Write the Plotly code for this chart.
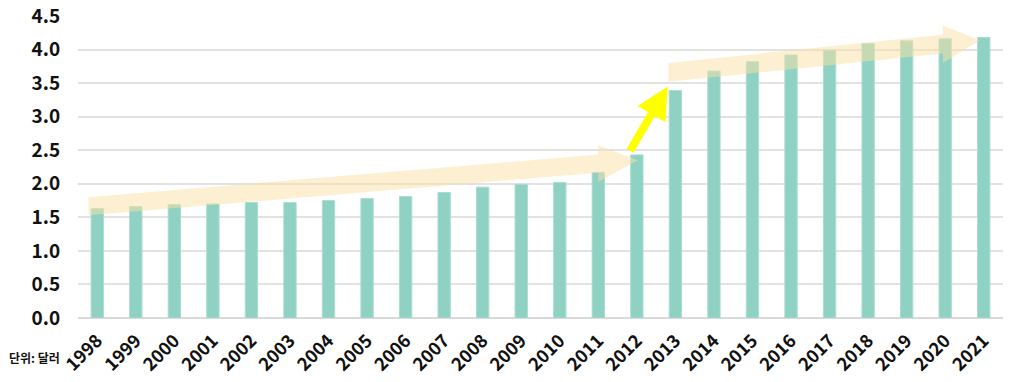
import plotly.graph_objects as go

years = list(range(1998, 2022))
values = [1.63, 1.66, 1.69, 1.70, 1.72, 1.72, 1.75, 1.78, 1.81, 1.87, 1.95, 1.99,
          2.02, 2.17, 2.43, 3.39, 3.68, 3.82, 3.92, 3.99, 4.09, 4.13, 4.16, 4.18]
tick_labels = [str(y) for y in years]
y_ticks = [0.0, 0.5, 1.0, 1.5, 2.0, 2.5, 3.0, 3.5, 4.0, 4.5]

FONT = "Noto Sans CJK KR"

fig = go.Figure()
fig.add_trace(go.Bar(
    x=years, y=values, width=0.32,
    marker=dict(color="#8fd1c2", line=dict(color="#a9ddd1", width=1)),
    hoverinfo="x+y", showlegend=False,
))


def band_arrow(x0, c0, x_base, c_base, x_tip, c_tip, half, head_half):
    """Wide trend arrow as a closed path in data coordinates."""
    pts = [
        (x0, c0 + half),
        (x_base, c_base + half),
        (x_base, c_base + head_half),
        (x_tip, c_tip),
        (x_base, c_base - head_half),
        (x_base, c_base - half),
        (x0, c0 - half),
    ]
    return "M " + " L ".join(f"{x},{y}" for x, y in pts) + " Z"


arrow_specs = [
    # start x, start center, head base x, base center, tip x, tip center, half thickness, head half
    (1997.77, 1.665, 2011.0, 2.30, 2012.02, 2.35, 0.135, 0.275),
    (2012.82, 3.66, 2019.94, 4.08, 2020.9, 4.14, 0.14, 0.28),
]
for spec in arrow_specs:
    fig.add_shape(type="path", path=band_arrow(*spec), xref="x", yref="y",
                  fillcolor="rgba(252,226,165,0.5)", line=dict(width=0), layer="above")

# yellow jump arrow
fig.add_annotation(x=2012.8, y=3.45, ax=2011.8, ay=2.47, xref="x", yref="y",
                   axref="x", ayref="y", text="", showarrow=True,
                   arrowhead=2, arrowsize=0.8, arrowwidth=8, arrowcolor="#ffff00")

fig.add_annotation(x=-0.077, y=-0.132, xref="paper", yref="paper", text="<b>단위: 달러</b>",
                   showarrow=False, xanchor="left", yanchor="middle",
                   font=dict(family=FONT, size=12, color="#111111"))

fig.update_layout(
    width=1015, height=382,
    margin=dict(l=78, r=12, t=16, b=64),
    plot_bgcolor="white", paper_bgcolor="white",
    xaxis=dict(range=[1997.5, 2021.5], tickmode="array", tickvals=years, ticktext=tick_labels,
               tickangle=-45, showgrid=False, zeroline=False, showline=False, automargin=False,
               ticks="outside", ticklen=4, tickcolor="rgba(0,0,0,0)",
               tickfont=dict(family=FONT, size=18, color="#111111", weight=700)),
    yaxis=dict(range=[0, 4.5], tickmode="array", tickvals=y_ticks,
               ticktext=[f"{v:.1f}" for v in y_ticks], automargin=False,
               showgrid=True, gridcolor="#e2e2e2", gridwidth=1.5,
               zeroline=True, zerolinecolor="#d9d9d9", zerolinewidth=1.5,
               showline=False, ticks="outside", ticklen=13, tickcolor="rgba(0,0,0,0)",
               tickfont=dict(family=FONT, size=19, color="#111111", weight=700)),
)

fig.write_html("out.html", config={"displayModeBar": False},
               post_script="document.body.style.margin='0';document.body.style.overflow='hidden';")
